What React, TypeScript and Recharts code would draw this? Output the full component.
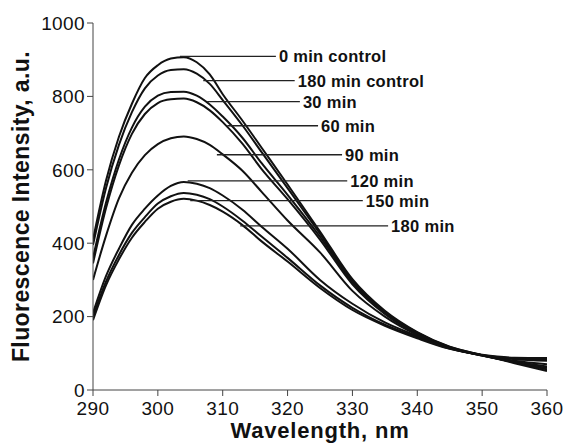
import { LineChart, Line, XAxis, YAxis, ReferenceLine, ReferenceDot } from 'recharts';

const wavelengths = [290, 292, 294, 296, 298, 300, 302, 304, 306, 308, 310, 313, 316, 320, 325, 330, 335, 340, 345, 350, 355, 360];

const control0 = [410, 570, 690, 780, 850, 885, 903, 907, 893, 860, 806, 735, 660, 560, 432, 302, 216, 158, 118, 95, 73, 52];
const control180 = [395, 550, 668, 757, 822, 857, 872, 874, 862, 834, 790, 722, 648, 550, 426, 298, 213, 156, 117, 95, 75, 56];
const min30 = [360, 510, 628, 715, 772, 802, 812, 813, 802, 778, 745, 688, 618, 532, 418, 293, 210, 154, 116, 94, 76, 60];
const min60 = [345, 495, 612, 698, 752, 782, 792, 794, 784, 762, 730, 672, 602, 520, 410, 288, 207, 152, 115, 94, 77, 64];
const min90 = [300, 420, 522, 592, 640, 670, 686, 691, 684, 668, 642, 598, 540, 462, 375, 270, 200, 150, 115, 94, 80, 70];
const min120 = [210, 310, 385, 450, 494, 530, 556, 567, 562, 550, 530, 492, 445, 385, 300, 235, 184, 147, 114, 95, 84, 80];
const min150 = [200, 295, 368, 428, 471, 508, 528, 537, 532, 520, 500, 462, 418, 360, 285, 224, 178, 144, 113, 95, 86, 84];
const min180 = [190, 285, 356, 415, 458, 494, 513, 521, 516, 504, 486, 450, 405, 350, 278, 218, 175, 141, 112, 96, 88, 87];

const xTicks = [290, 300, 310, 320, 330, 340, 350, 360];
const yTicks = [0, 200, 400, 600, 800, 1000];

const seriesKeys = ['c0', 'c180', 'm30', 'm60', 'm90', 'm120', 'm150', 'm180'];

// curve labels with leader lines (wavelength from/to, intensity level)
const labelNames = ['0 min control', '180 min control', '30 min', '60 min', '90 min', '120 min', '150 min', '180 min'];
const labelLevels = [909, 843, 786, 720, 641, 570, 516, 447];
const labelFrom = [303.4, 307.0, 307.6, 310.7, 309.1, 304.6, 305.0, 312.7];
const labelTo = [318.2, 321.1, 321.9, 324.7, 328.4, 329.2, 331.6, 335.5];

const data = wavelengths.map((w, i) => ({
  w,
  c0: control0[i],
  c180: control180[i],
  m30: min30[i],
  m60: min60[i],
  m90: min90[i],
  m120: min120[i],
  m150: min150[i],
  m180: min180[i],
}));

const font = 'Arial, "Liberation Sans", Helvetica, sans-serif';
const tickStyle = { fontSize: 19, fill: '#111', fontFamily: font, letterSpacing: 0.4 };

function YTitle(props: any) {
  const vb = props.viewBox;
  const cx = 21;
  const cy = vb.y + vb.height / 2;
  return (
    <text
      x={cx}
      y={cy}
      transform={`rotate(-90 ${cx} ${cy})`}
      textAnchor="middle"
      dominantBaseline="central"
      fontFamily={font}
      fontWeight="bold"
      fontSize={23}
      letterSpacing={0.4}
      fill="#111"
    >
      Fluorescence Intensity, a.u.
    </text>
  );
}

function XTitle(props: any) {
  const vb = props.viewBox;
  return (
    <text
      x={vb.x + vb.width / 2}
      y={438}
      textAnchor="middle"
      fontFamily={font}
      fontWeight="bold"
      fontSize={22}
      letterSpacing={0.8}
      fill="#111"
    >
      Wavelength, nm
    </text>
  );
}

function CurveLabel(props: any) {
  const vb = props.viewBox;
  return (
    <text
      x={vb.x + 3}
      y={vb.y}
      dominantBaseline="central"
      fontFamily={font}
      fontWeight="bold"
      fontSize={16.5}
      letterSpacing={0.3}
      fill="#111"
    >
      {props.text}
    </text>
  );
}

export default function App() {
  return (
    <div style={{ position: 'absolute', left: 0, top: 0, background: '#fff' }}>
      <LineChart width={566} height={445} data={data} margin={{ top: 23, right: 19, bottom: 0, left: 0 }}>
        <XAxis
          dataKey="w"
          type="number"
          domain={[290, 360]}
          ticks={xTicks}
          allowDataOverflow
          stroke="#444"
          tickSize={6}
          tickMargin={6}
          height={55}
          tick={tickStyle}
          label={<XTitle />}
        />
        <YAxis
          type="number"
          domain={[0, 1000]}
          ticks={yTicks}
          allowDataOverflow
          stroke="#444"
          tickSize={6}
          tickMargin={2}
          width={93}
          tick={tickStyle}
          label={<YTitle />}
        />
        {seriesKeys.map((k) => (
          <Line
            key={k}
            type="monotone"
            dataKey={k}
            stroke="#111"
            strokeWidth={2}
            dot={false}
            isAnimationActive={false}
          />
        ))}
        {labelNames.map((name, i) => (
          <ReferenceLine
            key={'l' + name}
            segment={[
              { x: labelFrom[i], y: labelLevels[i] },
              { x: labelTo[i], y: labelLevels[i] },
            ]}
            stroke="#222"
            strokeWidth={1.3}
          />
        ))}
        {labelNames.map((name, i) => (
          <ReferenceDot
            key={'t' + name}
            x={labelTo[i]}
            y={labelLevels[i]}
            r={0}
            fill="none"
            stroke="none"
            label={<CurveLabel text={name} />}
          />
        ))}
      </LineChart>
    </div>
  );
}
